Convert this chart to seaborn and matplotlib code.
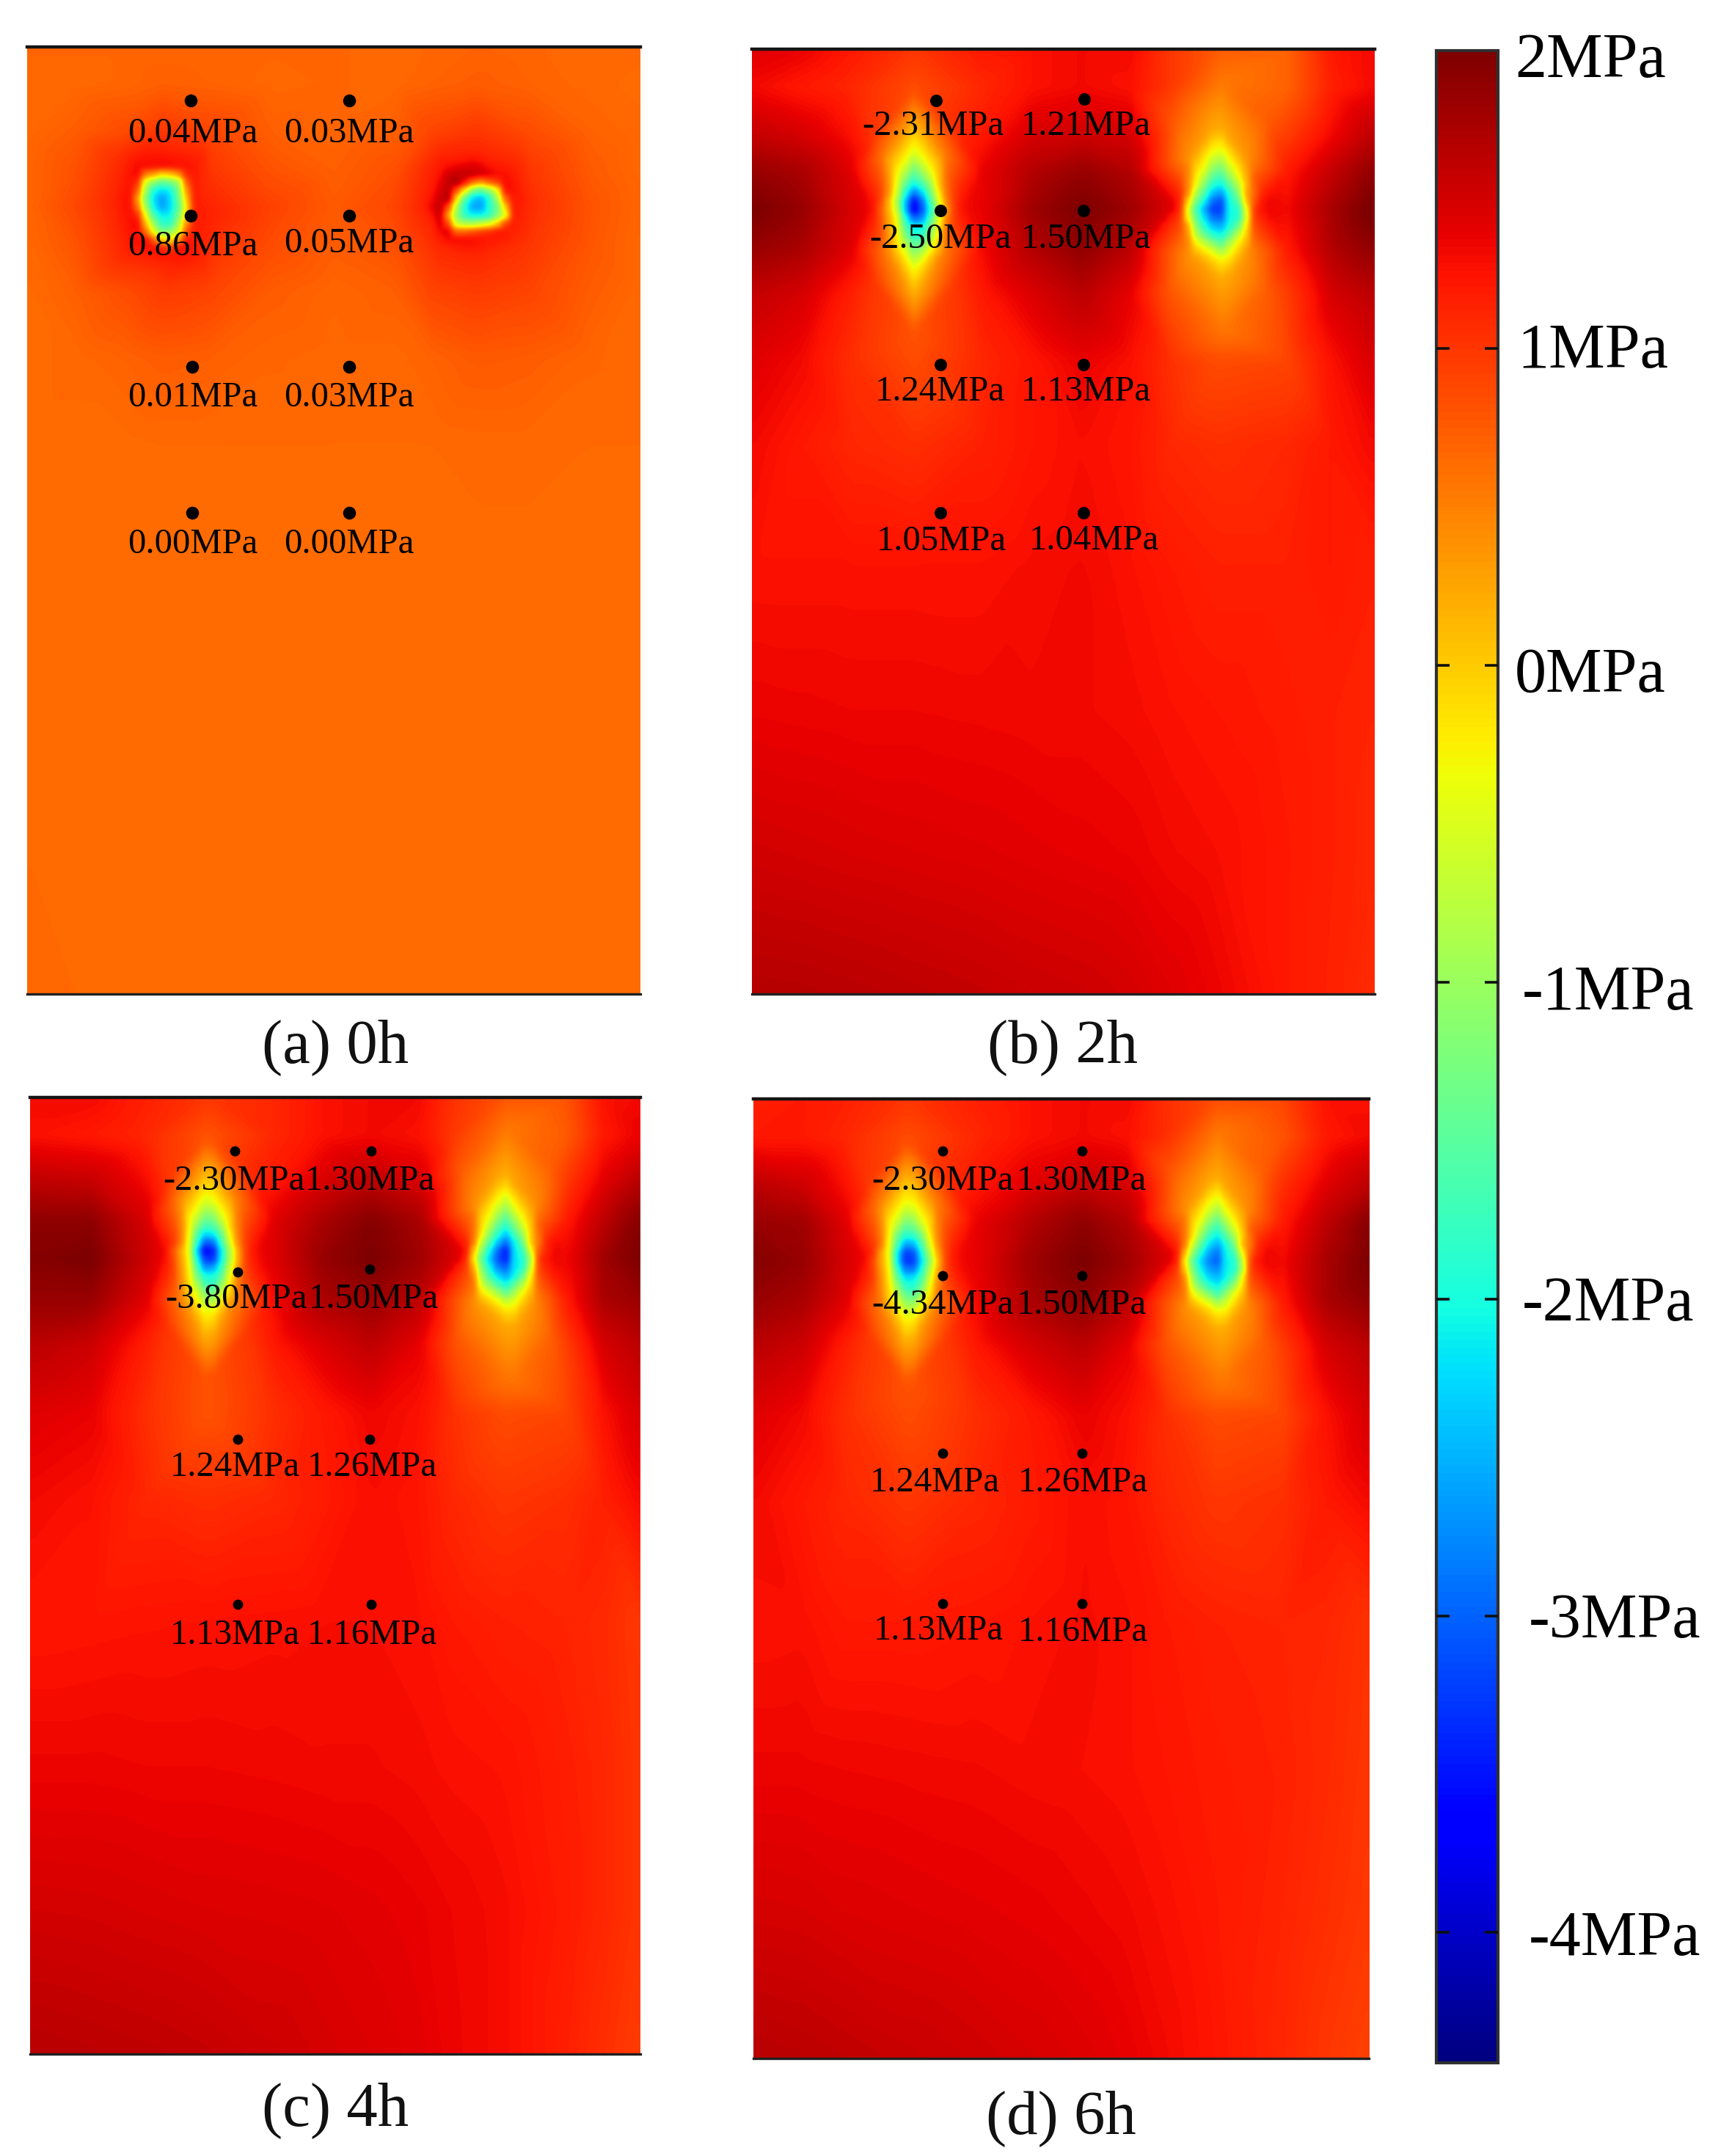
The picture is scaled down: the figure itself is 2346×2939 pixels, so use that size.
import numpy as np
import matplotlib
matplotlib.use("Agg")
import matplotlib.pyplot as plt
from matplotlib.cm import ScalarMappable
from matplotlib.colors import Normalize
from matplotlib.tri import Triangulation, LinearTriInterpolator
import seaborn as sns

sns.set_theme(style="white")
plt.rcParams['font.family'] = ['Liberation Serif', 'DejaVu Serif']

REF_W, REF_H = 1252.0, 1568.0      # all placement below is in the shrunk reference's pixels
VMIN, VMAX = -4.41, 1.94
n = np.nan

# ---------- measured stress (MPa) at section nodes; u, v are % of panel width / height ----------
ROWS = [0, 4, 9, 13, 17, 21, 26, 33, 42, 55, 70, 85, 100]

COLS_A = [0, 8, 16, 22, 30, 40, 50, 60, 66, 73.5, 82, 92, 100]
GRID_A = [
    [.68, .68, .68, .68, .68, .68, .68, .66, .68, .70, .68, .66, .66],
    [.66, .66, .68, .72, .70, .66, .68, .66, .70, .74, .70, .66, .64],
    [.66, .74, .85, 1.0, .90, .72, .68, .72, .90, 1.0, .85, .70, .66],
    [.68, .82, n,   n,   1.0, .80, .72, .82, n,   n,   1.0, .75, .66],
    [.68, .88, n,   n,   n,   .92, .76, .90, n,   n,   n,   .80, .68],
    [.66, .80, n,   n,   n,   .85, .74, .82, n,   n,   1.0, .78, .66],
    [.64, .72, .84, .96, .90, .74, .68, .72, .90, .96, .90, .74, .66],
    [.64, .66, .70, .74, .72, .68, .66, .66, .70, .76, .74, .68, .66],
    [.64, .64, .64, .65, .65, .65, .65, .65, .65, .66, .66, .65, .65],
    [.64, .64, .64, .64, .64, .64, .64, .64, .64, .64, .64, .64, .64],
    [.64, .64, .64, .64, .64, .64, .64, .64, .64, .64, .64, .64, .64],
    [.65, .64, .64, .64, .64, .64, .64, .64, .64, .64, .64, .64, .64],
    [.66, .65, .65, .64, .64, .64, .64, .64, .64, .64, .64, .64, .64],
]

COLS_B = [0, 8, 16, 26.2, 37, 45, 53, 61, 67, 74.8, 86, 93, 100]
GRID_B = [
    [1.4, 1.35, 1.2, 1.0, 1.2, 1.25, 1.3, 1.3, 1.0, .75, .7, 1.2, 1.3],
    [1.3, 1.2, 1.1, .85, 1.1, 1.25, 1.3, 1.25, 1.0, n, .7, 1.15, 1.3],
    [1.55, 1.45, 1.25, n, 1.2, 1.45, 1.5, 1.45, n, n, .95, 1.3, 1.6],
    [1.8, 1.7, 1.4, n, 1.35, 1.65, 1.8, 1.65, n, n, 1.2, 1.55, 1.85],
    [1.95, 1.8, 1.45, n, 1.35, 1.75, 1.95, 1.75, n, n, 1.3, 1.7, 2.0],
    [1.8, 1.7, 1.4, n, 1.3, 1.65, 1.85, 1.6, n, n, 1.2, 1.65, 1.85],
    [1.55, 1.45, 1.15, n, 1.2, 1.42, 1.6, 1.35, n, n, .95, 1.45, 1.6],
    [1.4, 1.3, 1.05, .85, 1.1, 1.22, 1.35, 1.25, 1.05, .85, .9, 1.25, 1.45],
    [1.3, 1.2, 1.1, 1.05, 1.15, 1.22, 1.27, 1.22, 1.1, 1.05, 1.1, 1.2, 1.3],
    [1.25, 1.25, 1.25, 1.25, 1.25, 1.28, 1.3, 1.25, 1.2, 1.15, 1.15, 1.2, 1.15],
    [1.34, 1.33, 1.32, 1.32, 1.31, 1.3, 1.3, 1.28, 1.25, 1.22, 1.18, 1.15, 1.12],
    [1.48, 1.46, 1.44, 1.42, 1.4, 1.38, 1.36, 1.34, 1.3, 1.27, 1.2, 1.15, 1.1],
    [1.64, 1.63, 1.61, 1.58, 1.55, 1.52, 1.5, 1.46, 1.4, 1.33, 1.2, 1.14, 1.06],
]

COLS_C = [0, 10, 19, 29.2, 40, 48, 56, 64, 69, 77.7, 88, 94, 100]
GRID_C = [
    [1.3, 1.3, 1.15, 1.0, 1.1, 1.25, 1.3, 1.3, 1.05, .8, .8, 1.25, 1.3],
    [1.25, 1.2, 1.1, .8, 1.1, 1.25, 1.3, 1.25, 1.0, n, .75, 1.2, 1.35],
    [1.6, 1.55, 1.3, n, 1.2, 1.45, 1.6, 1.45, n, n, 1.0, 1.4, 1.65],
    [1.85, 1.85, 1.45, n, 1.4, 1.7, 1.9, 1.7, n, n, 1.2, 1.6, 1.9],
    [1.9, 1.95, 1.5, n, 1.4, 1.8, 1.95, 1.75, n, n, 1.3, 1.75, 1.95],
    [1.8, 1.8, 1.4, n, 1.3, 1.7, 1.8, 1.6, n, n, 1.2, 1.7, 1.8],
    [1.6, 1.5, 1.15, n, 1.2, 1.42, 1.58, 1.35, n, n, .95, 1.45, 1.6],
    [1.4, 1.35, 1.05, .8, 1.05, 1.2, 1.32, 1.25, 1.05, .85, .9, 1.25, 1.45],
    [1.3, 1.25, 1.1, 1.05, 1.1, 1.18, 1.27, 1.22, 1.1, 1.0, 1.05, 1.15, 1.3],
    [1.22, 1.23, 1.24, 1.25, 1.26, 1.27, 1.27, 1.25, 1.2, 1.15, 1.12, 1.08, .98],
    [1.33, 1.33, 1.32, 1.32, 1.31, 1.3, 1.3, 1.28, 1.26, 1.24, 1.16, 1.1, 1.0],
    [1.47, 1.46, 1.44, 1.42, 1.41, 1.4, 1.38, 1.35, 1.32, 1.28, 1.18, 1.1, 1.0],
    [1.62, 1.6, 1.58, 1.55, 1.5, 1.46, 1.42, 1.38, 1.33, 1.28, 1.15, 1.05, .95],
]

COLS_D = [0, 8, 15, 25.2, 36, 45, 53.5, 61, 67, 75, 86, 93, 100]
GRID_D = [
    [1.15, 1.2, 1.15, 1.0, 1.15, 1.25, 1.3, 1.3, 1.05, .85, .9, 1.25, 1.25],
    [1.2, 1.2, 1.1, .85, 1.1, 1.25, 1.3, 1.25, 1.05, n, .8, 1.2, 1.3],
    [1.6, 1.5, 1.25, n, 1.2, 1.4, 1.55, 1.45, n, n, 1.05, 1.4, 1.6],
    [1.8, 1.75, 1.4, n, 1.35, 1.65, 1.85, 1.65, n, n, 1.2, 1.6, 1.9],
    [1.9, 1.8, 1.45, n, 1.35, 1.75, 1.95, 1.75, n, n, 1.3, 1.7, 1.95],
    [1.8, 1.7, 1.4, n, 1.3, 1.7, 1.85, 1.6, n, n, 1.2, 1.7, 1.85],
    [1.6, 1.5, 1.15, n, 1.2, 1.45, 1.6, 1.35, n, n, .95, 1.45, 1.6],
    [1.4, 1.3, 1.05, .85, 1.05, 1.2, 1.35, 1.25, 1.05, .85, .9, 1.25, 1.45],
    [1.3, 1.2, 1.1, 1.0, 1.1, 1.18, 1.27, 1.22, 1.1, 1.0, 1.05, 1.2, 1.3],
    [1.25, 1.26, 1.2, 1.2, 1.22, 1.25, 1.28, 1.25, 1.2, 1.15, 1.12, 1.1, 1.02],
    [1.33, 1.33, 1.32, 1.31, 1.3, 1.28, 1.27, 1.25, 1.22, 1.18, 1.14, 1.08, 1.0],
    [1.46, 1.45, 1.42, 1.4, 1.38, 1.36, 1.33, 1.3, 1.26, 1.2, 1.12, 1.05, .98],
    [1.62, 1.6, 1.57, 1.53, 1.49, 1.45, 1.41, 1.36, 1.3, 1.22, 1.1, 1.0, .92],
]

# ---------- plastic-zone rings round each hole (N, NE, E, SE, S, SW, W, NW) ----------
# Panel (a): small holes with a sharp edge
A_L_CORE = (21.8, 16.5, -2.9)
A_R_CORE = (73.5, 16.6, -3.0)
A_L_DU = [[.5, 2.2, 2.5, 1.8, .5, -.8, -1.9, -1.4],
          [.6, 3.2, 3.9, 2.8, 1.0, -1.6, -3.2, -2.4],
          [.6, 4.2, 5.4, 4.0, 1.0, -3.0, -4.6, -3.6],
          [.6, 7.0, 10.0, 7.0, 0.0, -6.0, -8.0, -6.0]]
A_L_DV = [[-2.0, -1.6, .5, 2.0, 2.8, 1.5, 0.0, -1.5],
          [-2.8, -2.4, .8, 3.2, 3.8, 2.2, -.2, -2.3],
          [-3.8, -3.4, 1.0, 4.5, 5.2, 3.6, -.2, -3.4],
          [-6.0, -5.0, 1.0, 6.0, 7.0, 5.5, 0.0, -4.5]]
A_L_VAL = [[-1.9] * 8,
           [-.6] * 8,
           [1.35, 1.3, 1.2, 1.3, 1.3, 1.35, 1.35, 1.35],
           [1.1, 1.1, 1.1, 1.1, 1.05, 1.1, 1.1, 1.1]]
A_R_DU = [[-.3, 2.0, 2.8, 1.6, -.3, -2.0, -2.4, -1.8],
          [-.2, 3.0, 4.5, 2.4, -.5, -3.5, -4.4, -2.6],
          [-.2, 4.0, 5.8, 3.0, -.5, -4.6, -5.8, -3.6],
          [0.0, 6.5, 9.0, 6.0, 0.0, -6.0, -8.5, -6.0]]
A_R_DV = [[-1.4, -1.0, .8, 1.4, 1.6, 1.5, .6, -.7],
          [-1.9, -1.4, 1.2, 2.0, 2.3, 2.4, 1.1, -1.0],
          [-2.9, -2.4, 1.6, 3.0, 3.2, 3.3, 1.0, -2.2],
          [-5.5, -4.0, 0.0, 4.5, 5.5, 4.5, 0.0, -4.0]]
A_R_VAL = [[-1.9] * 8,
           [-.6] * 8,
           [1.6, 1.35, 1.2, 1.25, 1.35, 1.4, 1.7, 1.75],
           [1.1, 1.1, 1.05, 1.05, 1.1, 1.1, 1.15, 1.2]]

# Panels (b)-(d): elongated zones
L_DU = [[0.0, 1.7, 2.5, 1.7, .3, -.8, -2.3, -1.5],
        [0.0, 2.8, 4.2, 3.0, 0.0, -2.4, -3.2, -2.8],
        [0.0, 4.6, 5.8, 4.4, 0.0, -4.4, -5.0, -4.8],
        [0.0, 7.0, 7.8, 6.5, 0.0, -6.5, -6.8, -6.5]]
L_DV = [[-2.6, -1.4, .2, 2.2, 3.6, 2.4, 0.0, -1.4],
        [-6.1, -3.2, .3, 3.8, 6.7, 3.8, -.6, -3.2],
        [-9.0, -5.5, 0.0, 5.0, 9.5, 5.0, -1.0, -5.5],
        [-11.5, -7.5, 0.0, 8.0, 13.5, 8.0, 0.0, -7.5]]
L_VAL = [[-2.0] * 8,
         [-.4] * 8,
         [.2, .5, .9, .5, .2, .5, .9, .5],
         [.7, 1.1, 1.3, 1.0, .8, 1.0, 1.3, 1.0]]
R_DU = [[0.0, 1.8, 3.8, 1.8, .2, -1.8, -3.2, -1.6],
        [0.0, 3.5, 4.8, 2.8, 1.0, -3.8, -4.8, -3.1],
        [0.0, 4.5, 5.5, 4.5, 1.0, -4.5, -5.8, -4.5],
        [.5, 8.0, 7.5, 8.0, 1.0, -8.0, -6.5, -7.5]]
R_DV = [[-3.0, -1.2, .9, 2.4, 3.4, 2.4, .4, -1.2],
        [-6.4, -2.8, 1.0, 3.9, 5.6, 3.5, 1.0, -2.8],
        [-8.5, -5.0, .7, 5.0, 7.8, 5.0, .7, -5.0],
        [-13.0, -9.0, 0.0, 9.0, 13.0, 9.0, 0.0, -9.0]]
R_VAL = [[-2.0] * 8,
         [-.4] * 8,
         [.2, .35, 1.0, .35, .2, .35, 1.0, .35],
         [.55, .75, 1.35, .75, .55, .8, 1.35, .8]]

B_L_CORE, B_R_CORE = (26.2, 16.6, -4.2), (74.8, 16.6, -3.8)
C_L_CORE, C_R_CORE = (29.2, 16.2, -4.3), (77.7, 16.4, -3.9)
D_L_CORE, D_R_CORE = (25.2, 16.6, -4.0), (75.0, 16.6, -3.3)

# ---------- monitoring points and their labels ----------
A_TEXT = ["0.04MPa", "0.03MPa", "0.86MPa", "0.05MPa", "0.01MPa", "0.03MPa", "0.00MPa", "0.00MPa"]
A_DOT_X = [139, 254, 139, 254, 140, 254, 140, 254]
A_DOT_Y = [73, 73, 157, 157, 267, 267, 373, 373]
A_LAB_X = [140, 254, 140, 254, 140, 254, 140, 254]
A_LAB_Y = [97, 97, 179, 177, 289, 289, 396, 396]

B_TEXT = ["-2.31MPa", "1.21MPa", "-2.50MPa", "1.50MPa", "1.24MPa", "1.13MPa", "1.05MPa", "1.04MPa"]
B_DOT_X = [681, 789, 684, 788, 684, 788, 684, 788]
B_DOT_Y = [73, 72, 153, 153, 265, 265, 373, 373]
B_LAB_X = [679, 790, 684, 790, 684, 790, 685, 796]
B_LAB_Y = [92, 92, 174, 174, 285, 285, 394, 393]

C_TEXT = ["-2.30MPa", "1.30MPa", "-3.80MPa", "1.50MPa", "1.24MPa", "1.26MPa", "1.13MPa", "1.16MPa"]
C_DOT_X = [171, 270, 173, 269, 173, 269, 173, 270]
C_DOT_Y = [837, 837, 925, 923, 1047, 1047, 1167, 1167]
C_LAB_X = [170, 269, 172, 272, 171, 271, 171, 271]
C_LAB_Y = [859, 859, 945, 945, 1067, 1067, 1189, 1189]

D_TEXT = ["-2.30MPa", "1.30MPa", "-4.34MPa", "1.50MPa", "1.24MPa", "1.26MPa", "1.13MPa", "1.16MPa"]
D_DOT_X = [686, 787, 686, 787, 686, 787, 686, 787]
D_DOT_Y = [837, 837, 928, 928, 1057, 1057, 1166, 1166]
D_LAB_X = [686, 787, 686, 787, 680, 788, 683, 788]
D_LAB_Y = [859, 859, 949, 949, 1078, 1078, 1186, 1187]

CAPTIONS = ["(a) 0h", "(b) 2h", "(c) 4h", "(d) 6h"]
CAP_X = [244, 773, 244, 772]
CAP_Y = [762, 762, 1535, 1541]

CB_LABELS = ["2MPa", "1MPa", "0MPa", "-1MPa", "-2MPa", "-3MPa", "-4MPa"]
CB_TICKS = [1, 0, -1, -2, -3, -4]
CB_LAB_X = [1102, 1104, 1102, 1107, 1107, 1112, 1112]
CB_LAB_Y = [45, 256, 492, 723, 949, 1180, 1411]

# ---------- layout ----------
BOXES = [(20, 34, 466, 723), (547, 36, 1000, 723), (22, 798, 466, 1494), (548, 799, 996, 1497)]
DOT_SIZES = [160, 150, 100, 100]
SAMPLE_COLS, SAMPLE_ROWS = 75, 115

cmap = matplotlib.colormaps["jet"]
norm = Normalize(VMIN, VMAX)

fig = plt.figure(figsize=(23.46, 29.39), dpi=100, facecolor="white")


def axes_from_box(x0, y0, x1, y1):
    return fig.add_axes([x0 / REF_W, 1 - y1 / REF_H, (x1 - x0) / REF_W, (y1 - y0) / REF_H])


def nodes(cols, grid, blobs):
    us, vs, zs = [], [], []
    for j, row in enumerate(grid):
        for i, z in enumerate(row):
            if not np.isnan(z):
                us.append(cols[i]); vs.append(ROWS[j]); zs.append(z)
    for core, du, dv, val in blobs:
        us.append(core[0]); vs.append(core[1]); zs.append(core[2])
        for ring_u, ring_v, ring_z in zip(du, dv, val):
            for a, b, c in zip(ring_u, ring_v, ring_z):
                us.append(core[0] + a); vs.append(core[1] + b); zs.append(c)
    return np.array(us, float), np.array(vs, float), np.array(zs, float)


PANELS = [
    (COLS_A, GRID_A, [(A_L_CORE, A_L_DU, A_L_DV, A_L_VAL), (A_R_CORE, A_R_DU, A_R_DV, A_R_VAL)],
     A_TEXT, A_DOT_X, A_DOT_Y, A_LAB_X, A_LAB_Y),
    (COLS_B, GRID_B, [(B_L_CORE, L_DU, L_DV, L_VAL), (B_R_CORE, R_DU, R_DV, R_VAL)],
     B_TEXT, B_DOT_X, B_DOT_Y, B_LAB_X, B_LAB_Y),
    (COLS_C, GRID_C, [(C_L_CORE, L_DU, L_DV, L_VAL), (C_R_CORE, R_DU, R_DV, R_VAL)],
     C_TEXT, C_DOT_X, C_DOT_Y, C_LAB_X, C_LAB_Y),
    (COLS_D, GRID_D, [(D_L_CORE, L_DU, L_DV, L_VAL), (D_R_CORE, R_DU, R_DV, R_VAL)],
     D_TEXT, D_DOT_X, D_DOT_Y, D_LAB_X, D_LAB_Y),
]

for box, size, (cols, grid, blobs, text, dx, dy, lx, ly) in zip(BOXES, DOT_SIZES, PANELS):
    x0, y0, x1, y1 = box
    ax = axes_from_box(*box)
    u, v, z = nodes(cols, grid, blobs)
    tri = Triangulation(u, v)
    field = LinearTriInterpolator(tri, z)
    su = (np.arange(SAMPLE_COLS) + 0.5) * 100 / SAMPLE_COLS
    sv = (np.arange(SAMPLE_ROWS) + 0.5) * 100 / SAMPLE_ROWS
    image = field(*np.meshgrid(su, sv))
    ax.imshow(image, extent=(x0, x1, y1, y0), origin="upper", aspect="auto", cmap=cmap, norm=norm,
              interpolation="gaussian", interpolation_stage="data")
    sns.scatterplot(x=dx, y=dy, s=size, color="black", linewidth=0, ax=ax, zorder=3)
    for t, a, b in zip(text, lx, ly):
        ax.text(a, b, t, ha="center", va="center", fontsize=35, color="black", zorder=4)
    ax.set_xlim(x0, x1)
    ax.set_ylim(y1, y0)
    ax.set_xlabel(""); ax.set_ylabel("")
    ax.set_xticks([]); ax.set_yticks([])
    ax.grid(False)
    ax.spines["left"].set_visible(False)
    ax.spines["right"].set_visible(False)
    ax.spines["top"].set_visible(True)
    ax.spines["bottom"].set_visible(True)
    ax.spines["top"].set_color("#151515"); ax.spines["top"].set_linewidth(3.2)
    ax.spines["bottom"].set_color("#202020"); ax.spines["bottom"].set_linewidth(2.4)

for t, a, b in zip(CAPTIONS, CAP_X, CAP_Y):
    fig.text(a / REF_W, 1 - b / REF_H, t, ha="center", va="center", fontsize=61, color="#111111")

# ---------- colour bar ----------
cax = axes_from_box(1045, 37, 1090, 1500)
cb = fig.colorbar(ScalarMappable(norm=norm, cmap=cmap), cax=cax, orientation="vertical")
cb.set_ticks(CB_TICKS)
cb.set_ticklabels([""] * len(CB_TICKS))
cb.minorticks_off()
cax.set_axisbelow(False)
cax.tick_params(axis="y", which="major", direction="in", left=True, right=True,
                length=13, width=2.6, color="#101010", pad=0)
cb.outline.set_edgecolor("#303030")
cb.outline.set_linewidth(3.0)

for t, a, b in zip(CB_LABELS, CB_LAB_X, CB_LAB_Y):
    fig.text(a / REF_W, 1 - b / REF_H, t, ha="left", va="center", fontsize=62, color="black")

fig.savefig("out.png", dpi=100, facecolor="white")
